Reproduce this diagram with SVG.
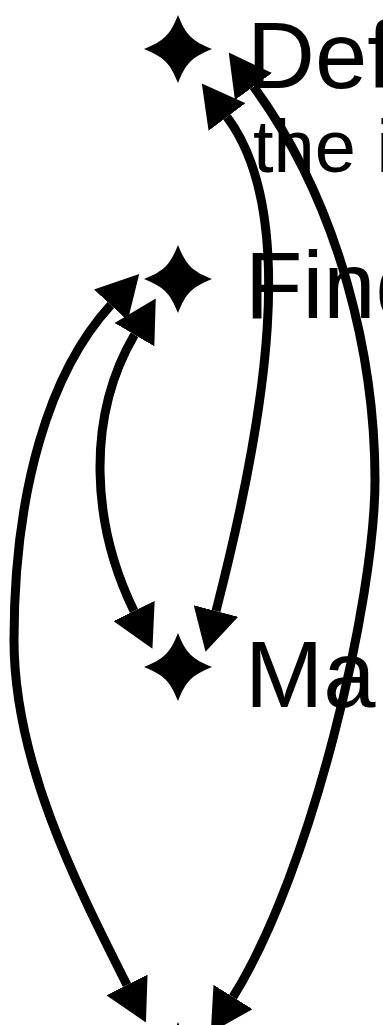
<svg xmlns="http://www.w3.org/2000/svg" width="383" height="1025" viewBox="0 0 383 1025">
<style>
.star{fill:#000}
.title{font-family:"Liberation Sans",Arial,Helvetica,sans-serif;font-size:94px;fill:#000}
.sub{font-family:"Liberation Sans",Arial,Helvetica,sans-serif;font-size:74px;fill:#000}
.edge{fill:none;stroke:#000;stroke-width:9;marker-start:url(#ah);marker-end:url(#ah)}
</style>
<defs>
<path id="st" d="M0,-34 C8,-14 14,-8 34,0 C14,8 8,14 0,34 C-8,14 -14,8 -34,0 C-14,-8 -8,-14 0,-34Z"/>
<marker id="ah" viewBox="0 -23 42 46" refX="0" refY="0" markerWidth="42" markerHeight="46" markerUnits="userSpaceOnUse" orient="auto-start-reverse">
<path d="M0,-23 L42,0 L0,23Z" fill="#000"/>
</marker>
</defs>
<rect width="383" height="1025" fill="#fff"/>
<g id="node-define">
<use href="#st" class="star" x="178" y="49"/>
<text class="title" x="247" y="88">Def</text>
<text class="sub" x="253" y="172">the i</text>
</g>
<g id="node-find">
<use href="#st" class="star" x="178" y="279"/>
<text class="title" x="245" y="318">Find</text>
</g>
<g id="node-ma">
<use href="#st" class="star" x="178" y="667"/>
<text class="title" x="245" y="707">Ma</text>
</g>
<g id="node-bottom">
<use href="#st" class="star" x="178" y="1056"/>
</g>
<g id="connectors">
<path class="edge" d="M227,117 C299,213 266,417 216,611"/>
<path class="edge" d="M253.5,86.5 C341.5,207 375,360 375,480 C375,600 312.5,869.5 233,997"/>
<path class="edge" d="M134.5,334.7 C85.5,418.2 91.8,524.6 134,611"/>
<path class="edge" d="M110.8,305 C49.6,371.6 14,490 14,640 C14,760 73,878 127,985"/>
</g>
</svg>
